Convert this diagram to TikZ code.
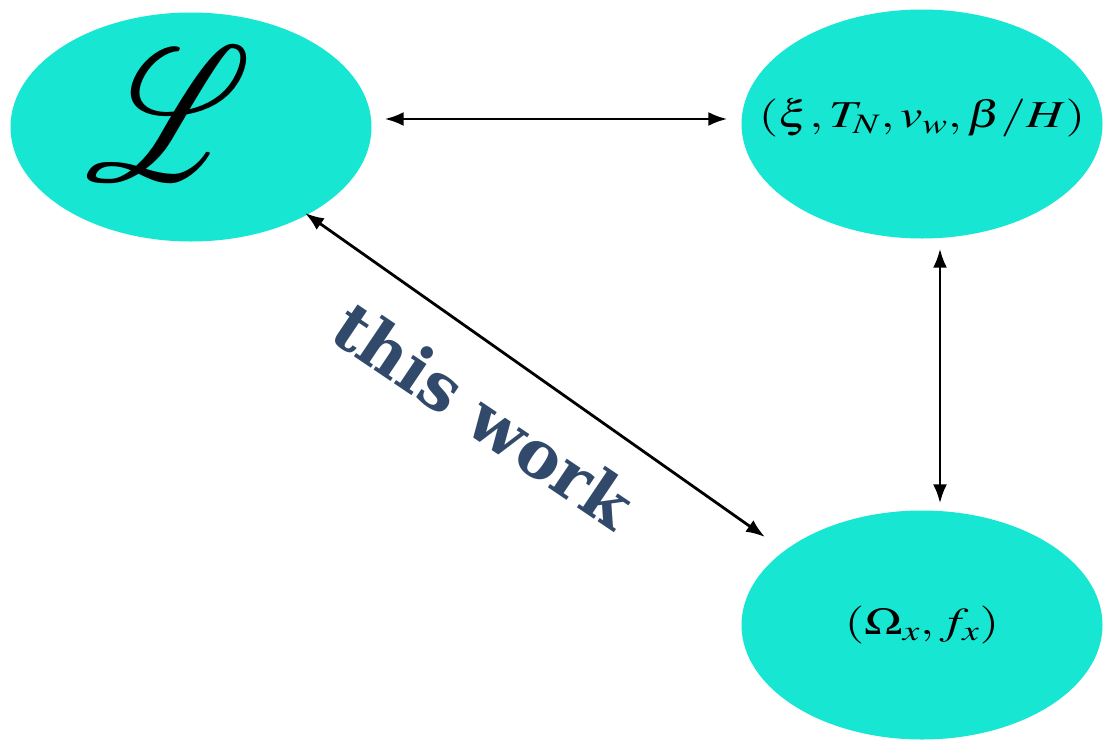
\documentclass[tikz,border=0pt]{standalone}
\usepackage{mathptmx}
\usepackage{mathrsfs}
\usepackage{fontspec}
\newfontfamily\labelfont{DejaVu Serif}
\usetikzlibrary{shapes.geometric,arrows.meta,calc}
\definecolor{blobcyan}{RGB}{23,230,211}
\definecolor{workblue}{RGB}{49,73,106}
\tikzset{
  blob/.style={ellipse, fill=blobcyan, draw=none, inner sep=0pt,
    minimum width=361pt, minimum height=229pt},
  link/.style={line width=2.8pt, {Latex[length=19pt,width=14pt]}-{Latex[length=19pt,width=14pt]}},
}
\begin{document}
\begin{tikzpicture}[x=1pt,y=-1pt]
\useasboundingbox (0,0) rectangle (1105,739);
\node[blob] (L) at (191,127) {\raisebox{13pt}[\height][\depth]{\scalebox{15.6}[19]{$\mathscr{L}$}}\kern44pt\relax};
\node[blob] (P) at (922,124) {\makebox[0pt]{\raisebox{6pt}[\height][\depth]{\scalebox{1.32}[1]{\fontsize{38}{38}\selectfont$(\xi, T_N, v_w, \beta/H)$}}}};
\node[blob] (O) at (922,625) {\makebox[0pt]{\scalebox{1.32}[1]{\fontsize{38}{38}\selectfont$(\Omega_x, f_x)$}}};
\draw[link, shorten <=13pt, shorten >=14pt] ([yshift=8pt]L.east) -- ([yshift=5pt]P.west);
\draw[link, shorten <=10pt, shorten >=7pt] ([xshift=18pt]P.south) -- ([xshift=18pt]O.north);
\draw[link] ($(L)+(114,86)$) -- ($(O)+(-157,-88)$);
\node[rotate=-34, text=workblue, font=\labelfont\bfseries\fontsize{66}{66}\selectfont] (W) at (484,415) {this work};
\end{tikzpicture}
\end{document}
